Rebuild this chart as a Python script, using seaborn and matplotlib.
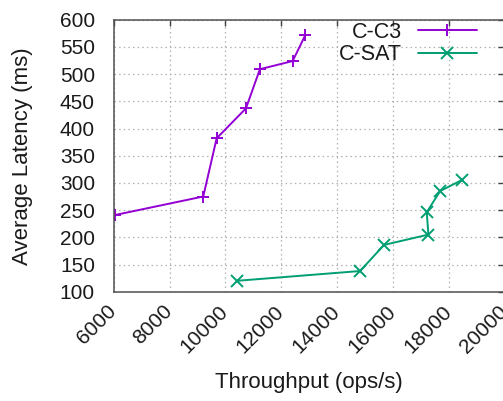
import matplotlib
matplotlib.use("Agg")
import matplotlib.pyplot as plt
import seaborn as sns
import pandas as pd

# Throughput (ops/s) vs. average latency (ms) for the two configurations
c3_throughput = [6050, 9210, 9690, 10740, 11240, 12415, 12860]
c3_latency = [241, 275, 382, 437, 509, 524, 571]

sat_throughput = [10410, 14830, 15690, 17280, 17220, 17700, 18470]
sat_latency = [120, 138, 186, 205, 246, 285, 305]

x_ticks = [6000, 8000, 10000, 12000, 14000, 16000, 18000, 20000]
y_ticks = [100, 150, 200, 250, 300, 350, 400, 450, 500, 550, 600]

series_names = ["C-C3", "C-SAT"]
series_colors = ["#9400d3", "#009e73"]
series_markers = ["+", "x"]

df = pd.concat([
    pd.DataFrame({"throughput": c3_throughput, "latency": c3_latency, "series": series_names[0]}),
    pd.DataFrame({"throughput": sat_throughput, "latency": sat_latency, "series": series_names[1]}),
], ignore_index=True)

sns.set_theme(style="white")
plt.rcParams["font.family"] = ["Liberation Sans", "DejaVu Sans"]
plt.rcParams["font.size"] = 15

TEXT = "#1a1a1a"
W, H = 503, 401
fig = plt.figure(figsize=(W / 100, H / 100), dpi=100)
left, right, top, bottom = 113.7, 504.3, 19.7, 291.7
ax = fig.add_axes([left / W, 1 - bottom / H, (right - left) / W, (bottom - top) / H])

for name, color, marker in zip(series_names, series_colors, series_markers):
    sub = df[df["series"] == name]
    sns.lineplot(data=sub, x="throughput", y="latency", sort=False, estimator=None,
                 color=color, marker=marker, markersize=8, markeredgewidth=1.4,
                 markeredgecolor=color, linewidth=1.4, ax=ax, label=name)

ax.set_xlim(6000, 20000)
ax.set_ylim(100, 600)
ax.set_xticks(x_ticks)
ax.set_yticks(y_ticks)
ax.set_xticklabels([str(t) for t in x_ticks], rotation=45, ha="right", va="center",
                   rotation_mode="anchor", fontsize=15, color=TEXT)
ax.set_yticklabels([str(t) for t in y_ticks], fontsize=15, color=TEXT)

ax.grid(True, color="#b0b0b0", linestyle=(0, (1.2, 2.5)), linewidth=0.9)
ax.tick_params(axis="both", which="major", direction="in", length=4, width=1,
               color="#404040", top=True, right=True)
ax.tick_params(axis="y", pad=13.5)
ax.tick_params(axis="x", pad=12)
for s in ax.spines.values():
    s.set_color("#505050")
    s.set_linewidth(1.1)

ax.set_xlabel("Throughput (ops/s)", fontsize=16, color=TEXT, labelpad=11)
ax.set_ylabel("Average Latency (ms)", fontsize=16, color=TEXT, labelpad=19)

leg = ax.legend(loc="upper right", bbox_to_anchor=(477 / W, 1 - 22 / H),
                bbox_transform=fig.transFigure, frameon=False, markerfirst=False,
                fontsize=15.5, handlelength=2.75, handletextpad=0.72, labelspacing=0.05,
                borderpad=0, borderaxespad=0)
for t in leg.get_texts():
    t.set_color(TEXT)

fig.savefig("out.png", dpi=100)
